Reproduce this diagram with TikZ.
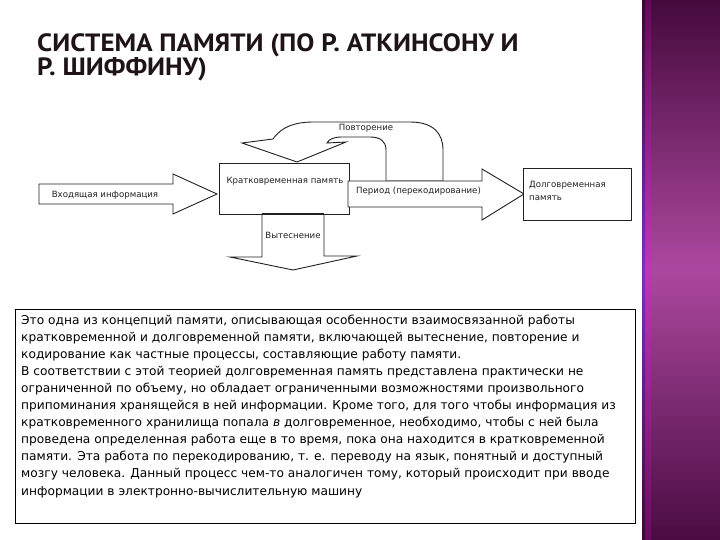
\documentclass[tikz,border=0pt]{standalone}
\usepackage{fontspec}
\setmainfont{DejaVu Sans}
\newfontfamily\titlefont{PT Sans}
\newfontfamily\diagfont{DejaVu Sans}
\newfontfamily\bodyfont{DejaVu Sans}
\definecolor{barTop}{HTML}{450A3C}
\definecolor{barMid}{HTML}{AC489F}
\definecolor{barBot}{HTML}{4A0C42}
\definecolor{ink}{HTML}{1E1418}
\definecolor{lineC}{HTML}{202020}
\tikzset{
  blockshape/.style={draw=lineC, line width=0.9pt, fill=white, line join=miter},
  diaglabel/.style={font=\diagfont\fontsize{8.6}{10}\selectfont, text=lineC, inner sep=0pt},
  titleline/.style={font=\titlefont\bfseries\fontsize{25}{28}\selectfont, text=ink, anchor=base west, inner sep=0pt, xscale=1.08},
  bodyline/.style={font=\bodyfont\fontsize{12.2}{14}\selectfont, text=black, anchor=base west, inner sep=0pt},
}
\begin{document}
\begin{tikzpicture}[x=1pt,y=-1pt]
\useasboundingbox (0,0) rectangle (720,540);
\fill[white] (0,0) rectangle (720,540);
% purple side bar
\shade[top color=barTop, bottom color=barBot, middle color=barMid] (642,0) rectangle (720,540);
\shade[top color=barTop!80!black, bottom color=barBot!80!black, middle color=barMid!70!blue] (642,0) rectangle (645,540);
\shade[top color=barTop!70!magenta, bottom color=barBot!70!magenta, middle color=barMid!60!magenta, opacity=0.6] (645,0) rectangle (651,540);

% title
\node[titleline] (title1) at (37,52) {СИСТЕМА ПАМЯТИ (ПО Р. АТКИНСОНУ И};
\node[titleline] (title2) at (37,76) {Р. ШИФФИНУ)};

% repetition U-turn arrow
\draw[blockshape] (386,181) -- (386,150) .. controls (386,141) and (380,137) .. (370,137)
  -- (342,137) .. controls (334,137) and (329,139) .. (327,143)
  -- (346,142) -- (297,162) -- (242,143) -- (273,139)
  .. controls (282,126) and (296,122) .. (314,122)
  -- (410,122) .. controls (434,122) and (443,134) .. (443,150) -- (443,181) -- cycle;
\node[diaglabel] (rep) at (366,128) {Повторение};

% input arrow
\draw[blockshape] (39,184) -- (173,184) -- (173,174) -- (217,194) -- (173,214) -- (173,204) -- (39,204) -- cycle;
\node[diaglabel] (inp) at (105,195) {Входящая информация};

% short-term memory box
\node[draw=lineC, line width=0.9pt, fill=white, minimum width=130pt, minimum height=51pt, anchor=north west, inner sep=0pt] (stm) at (219,163) {};
\node[diaglabel] (stmlabel) at (285,181) {Кратковременная память};

% period arrow
\draw[blockshape] (348,181) -- (482,181) -- (482,169) -- (524,194) -- (482,220) -- (482,207) -- (348,207) -- cycle;
\node[diaglabel, anchor=west] (per) at (356,191) {Период (перекодирование)};

% long-term memory box
\node[draw=lineC, line width=0.9pt, fill=white, minimum width=108pt, minimum height=52pt, anchor=north west, inner sep=0pt] (ltm) at (523,168) {};
\node[diaglabel, anchor=west, align=left, font=\diagfont\fontsize{8.6}{13}\selectfont] (ltmlabel) at (529,191) {Долговременная\\память};

% displacement arrow
\draw[blockshape] (262,214) -- (324,214) -- (324,256) -- (357,256) -- (293,270) -- (230,257) -- (262,257) -- cycle;
\draw[lineC, line width=1.6pt] (262,214) -- (324,214);
\node[diaglabel] (disp) at (293,235) {Вытеснение};

% text box
\node[draw=black, line width=0.8pt, minimum width=620pt, minimum height=214pt, anchor=north west, inner sep=0pt] (tbox) at (15,309) {};
\node[bodyline] (l1) at (21,324) {Это одна из концепций памяти, описывающая особенности взаимосвязанной работы};
\node[bodyline] (l2) at (21,341.1) {кратковременной и долговременной памяти, включающей вытеснение, повторение и};
\node[bodyline] (l3) at (21,358.2) {кодирование как частные процессы, составляющие работу памяти.};
\node[bodyline] (l4) at (21,375.3) {В соответствии с этой теорией долговременная память представлена практически не};
\node[bodyline] (l5) at (21,392.4) {ограниченной по объему, но обладает ограниченными возможностями произвольного};
\node[bodyline] (l6) at (21,409.5) {припоминания хранящейся в ней информации. Кроме того, для того чтобы информация из};
\node[bodyline] (l7) at (21,426.6) {кратковременного хранилища попала \textit{в} долговременное, необходимо, чтобы с ней была};
\node[bodyline] (l8) at (21,443.7) {проведена определенная работа еще в то время, пока она находится в кратковременной};
\node[bodyline] (l9) at (21,460.8) {памяти. Эта работа по перекодированию, т. е. переводу на язык, понятный и доступный};
\node[bodyline] (l10) at (21,477.9) {мозгу человека. Данный процесс чем-то аналогичен тому, который происходит при вводе};
\node[bodyline] (l11) at (21,495) {информации в электронно-вычислительную машину};
\end{tikzpicture}
\end{document}
